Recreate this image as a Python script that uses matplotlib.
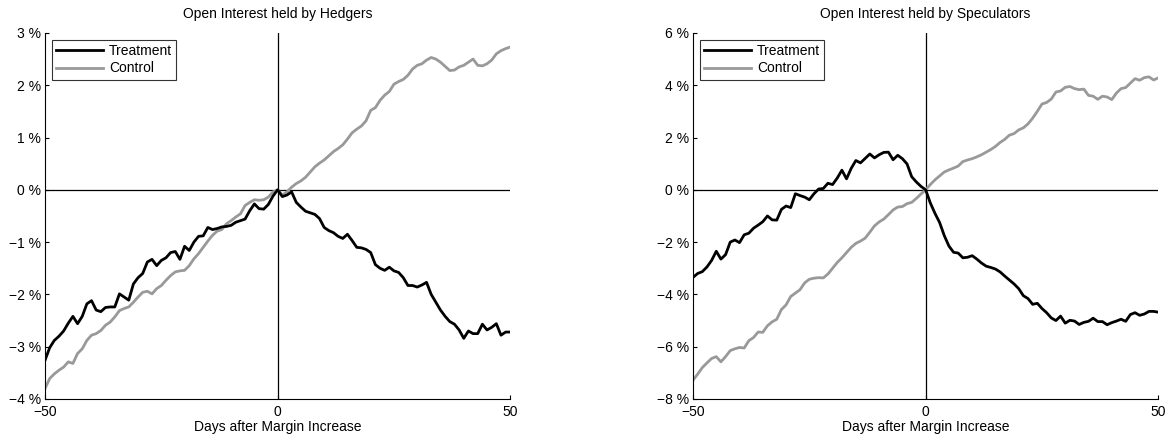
import numpy as np
import matplotlib
matplotlib.use("Agg")
import matplotlib.pyplot as plt

plt.rcParams['font.family'] = ['Liberation Sans', 'DejaVu Sans']

days = list(range(-50, 51))

# Open interest held by hedgers (%)
hedgers_treatment = [
    -3.26, -3.02, -2.88, -2.80, -2.70, -2.55, -2.42, -2.56, -2.42, -2.18,
    -2.12, -2.30, -2.33, -2.25, -2.24, -2.24, -1.99, -2.05, -2.11, -1.80,
    -1.68, -1.60, -1.38, -1.33, -1.45, -1.35, -1.30, -1.20, -1.18, -1.33,
    -1.08, -1.16, -1.00, -0.89, -0.88, -0.72, -0.76, -0.74, -0.71, -0.70,
    -0.68, -0.62, -0.59, -0.56, -0.40, -0.27, -0.36, -0.37, -0.28, -0.12,
    0.00,
    -0.13, -0.10, -0.04, -0.24, -0.33, -0.41, -0.44, -0.47, -0.55, -0.72,
    -0.78, -0.82, -0.89, -0.93, -0.85, -0.97, -1.10, -1.11, -1.14, -1.20,
    -1.43, -1.50, -1.54, -1.48, -1.55, -1.58, -1.68, -1.83, -1.83, -1.86,
    -1.82, -1.77, -2.00, -2.15, -2.30, -2.42, -2.52, -2.57, -2.68, -2.84,
    -2.70, -2.75, -2.75, -2.57, -2.68, -2.63, -2.56, -2.78, -2.72, -2.72,
]
hedgers_control = [
    -3.80, -3.61, -3.52, -3.45, -3.39, -3.29, -3.32, -3.13, -3.04, -2.88,
    -2.78, -2.75, -2.69, -2.59, -2.53, -2.43, -2.31, -2.27, -2.24, -2.15,
    -2.05, -1.96, -1.94, -1.99, -1.89, -1.83, -1.73, -1.64, -1.57, -1.55,
    -1.54, -1.45, -1.32, -1.22, -1.10, -0.98, -0.87, -0.79, -0.76, -0.65,
    -0.59, -0.52, -0.46, -0.30, -0.24, -0.19, -0.20, -0.19, -0.14, -0.04,
    0.00,
    -0.10, -0.04, 0.05, 0.12, 0.17, 0.24, 0.34, 0.44, 0.51, 0.57,
    0.65, 0.73, 0.79, 0.86, 0.97, 1.09, 1.16, 1.22, 1.32, 1.52,
    1.57, 1.71, 1.81, 1.88, 2.02, 2.07, 2.11, 2.19, 2.31, 2.38,
    2.41, 2.48, 2.53, 2.50, 2.44, 2.36, 2.28, 2.29, 2.35, 2.38,
    2.44, 2.50, 2.38, 2.37, 2.41, 2.48, 2.60, 2.66, 2.70, 2.73,
]

# Open interest held by speculators (%)
spec_treatment = [
    -3.35, -3.20, -3.13, -2.95, -2.70, -2.35, -2.65, -2.48, -2.00, -1.92,
    -2.02, -1.72, -1.66, -1.47, -1.35, -1.22, -1.00, -1.15, -1.16, -0.75,
    -0.62, -0.68, -0.15, -0.22, -0.28, -0.38, -0.15, 0.03, 0.05, 0.25,
    0.20, 0.45, 0.75, 0.42, 0.82, 1.12, 1.03, 1.20, 1.37, 1.22,
    1.34, 1.43, 1.44, 1.15, 1.32, 1.19, 0.99, 0.50, 0.30, 0.13,
    0.00,
    -0.50, -0.90, -1.25, -1.75, -2.15, -2.39, -2.42, -2.60, -2.58, -2.52,
    -2.65, -2.80, -2.92, -2.97, -3.03, -3.14, -3.30, -3.45, -3.60, -3.78,
    -4.05, -4.16, -4.38, -4.34, -4.54, -4.70, -4.90, -5.00, -4.83, -5.10,
    -4.99, -5.02, -5.15, -5.07, -5.03, -4.91, -5.04, -5.04, -5.16, -5.08,
    -5.02, -4.95, -5.03, -4.77, -4.70, -4.80, -4.75, -4.65, -4.65, -4.68,
]
spec_control = [
    -7.28, -7.05, -6.80, -6.62, -6.45, -6.38, -6.58, -6.38, -6.15, -6.08,
    -6.03, -6.05, -5.77, -5.65, -5.44, -5.45, -5.20, -5.05, -4.95, -4.58,
    -4.40, -4.08, -3.95, -3.82, -3.56, -3.42, -3.38, -3.36, -3.37, -3.22,
    -3.00, -2.78, -2.60, -2.40, -2.20, -2.05, -1.96, -1.85, -1.62, -1.38,
    -1.23, -1.12, -0.95, -0.77, -0.66, -0.64, -0.53, -0.48, -0.33, -0.16,
    0.00,
    0.20, 0.38, 0.53, 0.68, 0.76, 0.83, 0.91, 1.08, 1.14, 1.19,
    1.26, 1.34, 1.44, 1.54, 1.66, 1.81, 1.93, 2.09, 2.15, 2.29,
    2.37, 2.52, 2.74, 3.00, 3.28, 3.34, 3.47, 3.74, 3.78, 3.92,
    3.95, 3.87, 3.83, 3.85, 3.61, 3.58, 3.46, 3.58, 3.55, 3.45,
    3.70, 3.87, 3.91, 4.08, 4.25, 4.19, 4.29, 4.32, 4.20, 4.28,
]

titles = ['Open Interest held by Hedgers', 'Open Interest held by Speculators']
yticks_list = [list(range(-4, 4)), list(range(-8, 7, 2))]
xticks = [-50, 0, 50]


def pct(v):
    return ('\u2212' if v < 0 else '') + '%d %%' % abs(v)


fig = plt.figure(figsize=(11.72, 4.40), dpi=100)
axes = [fig.add_axes([0.0384, 0.0932, 0.397, 0.832]),
        fig.add_axes([0.5913, 0.0932, 0.397, 0.832])]
series = [(hedgers_treatment, hedgers_control), (spec_treatment, spec_control)]

for ax, (tr, co), title, yt in zip(axes, series, titles, yticks_list):
    ax.axhline(0, color='black', lw=0.9, zorder=1)
    ax.axvline(0, color='black', lw=0.9, zorder=1)
    ax.plot(days, tr, color='black', lw=2.0, label='Treatment', zorder=3)
    ax.plot(days, co, color='#999999', lw=2.0, label='Control', zorder=2)
    ax.set_xlim(-50, 50)
    ax.set_ylim(yt[0], yt[-1])
    ax.set_xticks(xticks)
    ax.set_xticklabels(['\u221250', '0', '50'])
    ax.set_yticks(yt)
    ax.set_yticklabels([pct(v) for v in yt])
    ax.tick_params(direction='in', length=3, width=0.8, labelsize=10, pad=3)
    ax.tick_params(axis='x', pad=4)
    for s in ['top', 'right']:
        ax.spines[s].set_visible(False)
    for s in ['left', 'bottom']:
        ax.spines[s].set_linewidth(0.8)
    ax.set_title(title, fontsize=10, pad=11)
    ax.set_xlabel('Days after Margin Increase', fontsize=10, labelpad=1)
    leg = ax.legend(loc='upper left', fontsize=10, frameon=True, fancybox=False,
                    handlelength=3.4, labelspacing=0.25, borderpad=0.3,
                    borderaxespad=0.5, handletextpad=0.4)
    leg.get_frame().set_edgecolor('black')
    leg.get_frame().set_linewidth(0.8)

fig.savefig('out.png', dpi=100)
